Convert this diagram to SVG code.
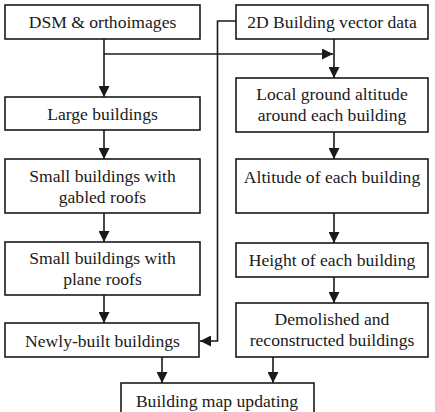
<svg xmlns="http://www.w3.org/2000/svg" width="435" height="412" viewBox="0 0 435 412">
<defs>
<marker id="ah" viewBox="0 0 11 11" refX="11" refY="5.5" markerWidth="11" markerHeight="11" markerUnits="userSpaceOnUse" orient="auto">
<path d="M0,0 L11,5.5 L0,11 Z" fill="#1a1a1a"/>
</marker>
</defs>
<rect width="435" height="412" fill="#fff"/>
<g id="connectors" fill="none" stroke="#1a1a1a" stroke-width="1.6">
<path d="M104,39 V97" marker-end="url(#ah)"/>
<path d="M104,54 H333" marker-end="url(#ah)"/>
<path d="M334,39 V78" marker-end="url(#ah)"/>
<path d="M104,130 V159" marker-end="url(#ah)"/>
<path d="M104,213 V242" marker-end="url(#ah)"/>
<path d="M104,295 V323" marker-end="url(#ah)"/>
<path d="M236,21 H217.5 V341 H200" marker-end="url(#ah)"/>
<path d="M334,132 V159" marker-end="url(#ah)"/>
<path d="M334,213 V243" marker-end="url(#ah)"/>
<path d="M334,277 V303" marker-end="url(#ah)"/>
<path d="M162,357 V383" marker-end="url(#ah)"/>
<path d="M273,357 V383" marker-end="url(#ah)"/>
</g>
<g fill="#fff" stroke="#1a1a1a" stroke-width="1.6">
<g id="dsm"><rect x="5" y="5" width="195" height="34"/></g>
<g id="vector"><rect x="236" y="5" width="192" height="34"/></g>
<g id="large"><rect x="5" y="97" width="195" height="33"/></g>
<g id="local"><rect x="236" y="78" width="192" height="54"/></g>
<g id="gabled"><rect x="5" y="159" width="195" height="54"/></g>
<g id="altitude"><rect x="236" y="159" width="192" height="54"/></g>
<g id="plane"><rect x="5" y="242" width="195" height="53"/></g>
<g id="height"><rect x="236" y="243" width="192" height="34"/></g>
<g id="newly"><rect x="5" y="323" width="194" height="34"/></g>
<g id="demolished"><rect x="236" y="303" width="192" height="54"/></g>
<g id="update"><rect x="121" y="383" width="193" height="34"/></g>
</g>
<g id="labels" fill="#1a1a1a" text-anchor="middle" font-family="Liberation Serif" font-size="17.6">
<text x="102.5" y="28" style="font-family:'Liberation Serif',serif">DSM &amp; orthoimages</text>
<text x="332" y="28" style="font-family:'Liberation Serif',serif">2D Building vector data</text>
<text x="102.5" y="120" style="font-family:'Liberation Serif',serif">Large buildings</text>
<text x="332" y="100" style="font-family:'Liberation Serif',serif">Local ground altitude</text>
<text x="332" y="121" style="font-family:'Liberation Serif',serif">around each building</text>
<text x="102.5" y="182" style="font-family:'Liberation Serif',serif">Small buildings with</text>
<text x="102.5" y="203" style="font-family:'Liberation Serif',serif">gabled roofs</text>
<text x="332" y="183" style="font-family:'Liberation Serif',serif">Altitude of each building</text>
<text x="102.5" y="264" style="font-family:'Liberation Serif',serif">Small buildings with</text>
<text x="102.5" y="285" style="font-family:'Liberation Serif',serif">plane roofs</text>
<text x="332" y="266" style="font-family:'Liberation Serif',serif">Height of each building</text>
<text x="102.5" y="347" style="font-family:'Liberation Serif',serif">Newly-built buildings</text>
<text x="332" y="325" style="font-family:'Liberation Serif',serif">Demolished and</text>
<text x="332" y="346" style="font-family:'Liberation Serif',serif">reconstructed buildings</text>
<text x="217" y="407" style="font-family:'Liberation Serif',serif">Building map updating</text>
</g>
</svg>
